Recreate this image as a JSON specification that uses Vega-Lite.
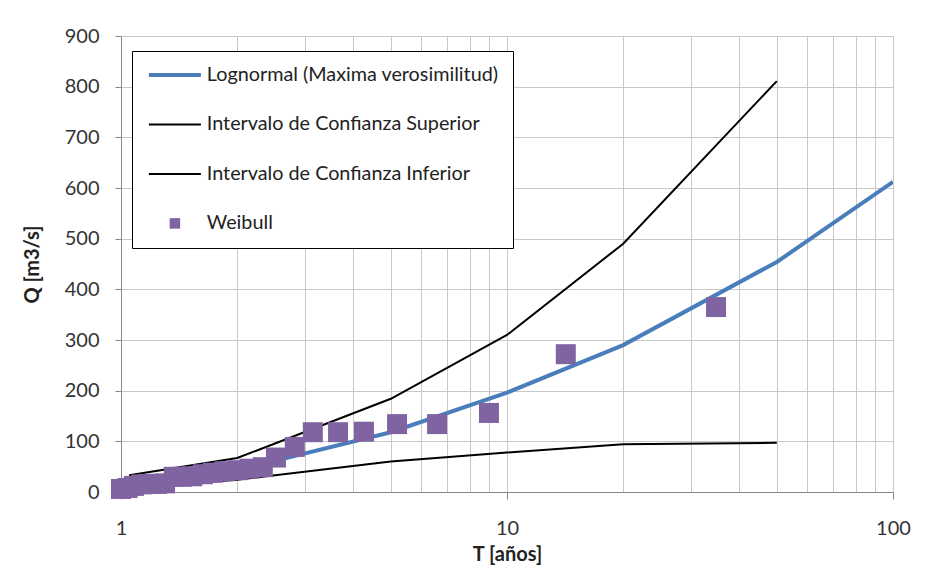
{
  "$schema": "https://vega.github.io/schema/vega-lite/v6.json",
  "width": 772,
  "height": 456,
  "autosize": "none",
  "padding": {"left": 121, "top": 36, "right": 55, "bottom": 78},
  "background": "white",
  "config": {
    "font": "Lato",
    "view": {"stroke": "#BFBFBF", "strokeWidth": 1}
  },
  "datasets": {
    "lines": [
      {"s": "Lognormal (Maxima verosimilitud)", "T": 1.05, "Q": 12},
      {"s": "Lognormal (Maxima verosimilitud)", "T": 2, "Q": 43},
      {"s": "Lognormal (Maxima verosimilitud)", "T": 5, "Q": 118},
      {"s": "Lognormal (Maxima verosimilitud)", "T": 10, "Q": 196},
      {"s": "Lognormal (Maxima verosimilitud)", "T": 20, "Q": 290},
      {"s": "Lognormal (Maxima verosimilitud)", "T": 50, "Q": 454},
      {"s": "Lognormal (Maxima verosimilitud)", "T": 100, "Q": 612},
      {"s": "Intervalo de Confianza Superior", "T": 1.05, "Q": 33},
      {"s": "Intervalo de Confianza Superior", "T": 2, "Q": 67},
      {"s": "Intervalo de Confianza Superior", "T": 5, "Q": 184},
      {"s": "Intervalo de Confianza Superior", "T": 10, "Q": 310},
      {"s": "Intervalo de Confianza Superior", "T": 20, "Q": 490},
      {"s": "Intervalo de Confianza Superior", "T": 50, "Q": 811},
      {"s": "Intervalo de Confianza Inferior", "T": 1.05, "Q": 8},
      {"s": "Intervalo de Confianza Inferior", "T": 2, "Q": 24},
      {"s": "Intervalo de Confianza Inferior", "T": 5, "Q": 60},
      {"s": "Intervalo de Confianza Inferior", "T": 10, "Q": 78},
      {"s": "Intervalo de Confianza Inferior", "T": 20, "Q": 94},
      {"s": "Intervalo de Confianza Inferior", "T": 50, "Q": 97}
    ],
    "weibull": [
      {"s": "Weibull", "T": 34.8, "Q": 365},
      {"s": "Weibull", "T": 14.2, "Q": 272},
      {"s": "Weibull", "T": 8.98, "Q": 156},
      {"s": "Weibull", "T": 6.59, "Q": 134},
      {"s": "Weibull", "T": 5.19, "Q": 134},
      {"s": "Weibull", "T": 4.26, "Q": 119},
      {"s": "Weibull", "T": 3.65, "Q": 118},
      {"s": "Weibull", "T": 3.14, "Q": 118},
      {"s": "Weibull", "T": 2.82, "Q": 89},
      {"s": "Weibull", "T": 2.52, "Q": 68},
      {"s": "Weibull", "T": 2.33, "Q": 49},
      {"s": "Weibull", "T": 2.15, "Q": 46},
      {"s": "Weibull", "T": 2.0, "Q": 43},
      {"s": "Weibull", "T": 1.86, "Q": 41},
      {"s": "Weibull", "T": 1.73, "Q": 38},
      {"s": "Weibull", "T": 1.63, "Q": 35},
      {"s": "Weibull", "T": 1.53, "Q": 31},
      {"s": "Weibull", "T": 1.44, "Q": 30},
      {"s": "Weibull", "T": 1.37, "Q": 30},
      {"s": "Weibull", "T": 1.3, "Q": 17},
      {"s": "Weibull", "T": 1.24, "Q": 16},
      {"s": "Weibull", "T": 1.18, "Q": 16},
      {"s": "Weibull", "T": 1.13, "Q": 15},
      {"s": "Weibull", "T": 1.08, "Q": 12},
      {"s": "Weibull", "T": 1.04, "Q": 8},
      {"s": "Weibull", "T": 1.0, "Q": 6}
    ]
  },
  "encoding": {
    "x": {
      "field": "T", "type": "quantitative",
      "scale": {"type": "log", "domain": [1, 100], "nice": false},
      "axis": {
        "title": "T [años]",
        "titleFont": "Lato", "titleFontSize": 20, "titleFontWeight": "bold", "titleColor": "#222",
        "titlePadding": 6,
        "values": [1,2,3,4,5,6,7,8,9,10,20,30,40,50,60,70,80,90,100],
        "labelExpr": "datum.value == 1 || datum.value == 10 || datum.value == 100 ? datum.value : ''",
        "labelFontSize": 20, "labelColor": "#333", "labelPadding": 19, "labelFlush": false, "labelOverlap": false,
        "grid": true, "gridColor": "#C8C8C8", "gridWidth": 1,
        "domainColor": "#888", "tickColor": "#888", "tickSize": 7,
        "tickOpacity": {"condition": {"test": "datum.value == 1 || datum.value == 10 || datum.value == 100", "value": 1}, "value": 0}
      }
    },
    "y": {
      "field": "Q", "type": "quantitative",
      "scale": {"domain": [0, 900], "nice": false},
      "axis": {
        "title": "Q [m3/s]",
        "titleFont": "Lato", "titleFontSize": 20, "titleFontWeight": "bold", "titleColor": "#222",
        "titlePadding": 22,
        "values": [0,100,200,300,400,500,600,700,800,900],
        "labelFontSize": 20, "labelColor": "#333", "labelPadding": 16,
        "grid": true, "gridColor": "#C8C8C8", "gridWidth": 1,
        "domainColor": "#888", "tickColor": "#888", "tickSize": 6
      }
    },
    "color": {
      "field": "s", "type": "nominal",
      "scale": {
        "domain": ["Lognormal (Maxima verosimilitud)", "Intervalo de Confianza Superior", "Intervalo de Confianza Inferior", "Weibull"],
        "range": ["#4A7EBB", "#000000", "#000000", "#8064A2"]
      },
      "legend": {
        "title": null,
        "orient": "none", "legendX": 11, "legendY": 15,
        "fillColor": "white", "strokeColor": "#000", "padding": 14,
        "symbolType": "stroke", "symbolStrokeWidth": 2,
        "symbolOffset": 19,
        "labelFontSize": 19.8, "labelColor": "#222", "labelOffset": 22, "rowPadding": 28.5,
        "labelLimit": 500,
        "encode": {
          "symbols": {
            "update": {
              "shape": {"signal": "datum.value == 'Weibull' ? 'square' : 'stroke'"},
              "size": {"signal": "datum.value == 'Weibull' ? 110 : 2704"},
              "strokeWidth": {"signal": "datum.value == 'Weibull' ? 0 : (datum.value == 'Lognormal (Maxima verosimilitud)' ? 4 : 2)"},
              "fill": {"signal": "datum.value == 'Weibull' ? '#8064A2' : 'transparent'"},
              "opacity": {"value": 1}
            }
          }
        }
      }
    }
  },
  "layer": [
    {
      "data": {"name": "lines"},
      "mark": {"type": "line", "clip": true},
      "encoding": {
        "detail": {"field": "s"},
        "strokeWidth": {"condition": {"test": "datum.s == 'Lognormal (Maxima verosimilitud)'", "value": 4}, "value": 2}
      }
    },
    {
      "data": {"name": "weibull"},
      "mark": {"type": "point", "shape": "square", "filled": true, "size": 400, "opacity": 1}
    }
  ]
}
